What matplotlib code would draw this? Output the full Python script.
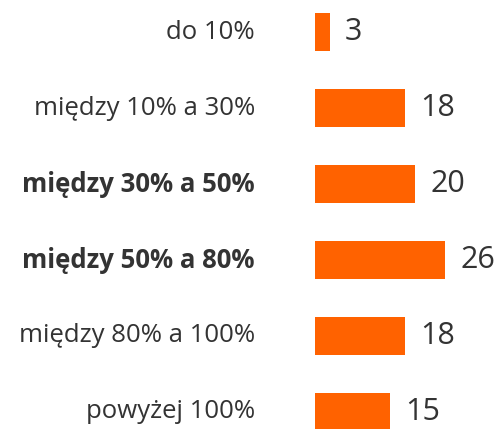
import matplotlib.pyplot as plt

# categories and counts
categories = ['do 10%', 'między 10% a 30%', 'między 30% a 50%',
              'między 50% a 80%', 'między 80% a 100%', 'powyżej 100%']
values = [3, 18, 20, 26, 18, 15]
bold = [False, False, True, True, False, False]

orange = '#FF6200'
grey = '#333333'

plt.rcParams['font.family'] = ['Open Sans', 'DejaVu Sans']

fig = plt.figure(figsize=(4.97, 4.29), dpi=100)
W, H = 497, 429
x0 = 315
ax = fig.add_axes([x0 / W, 0, 180 / W, 1])

pos = list(range(len(categories)))
ax.barh(pos, values, height=0.5, color=orange)

# pixel layout: first bar centre at 32px from top, 76px between bars
ax.set_ylim((H - 32) / 76, -32 / 76)
ax.set_xlim(0, 36)

for i, (c, v, b) in enumerate(zip(categories, values, bold)):
    ax.annotate(c, xy=(0, i), xytext=(-60, 0), textcoords='offset pixels',
                ha='right', va='center', fontsize=18.5, color=grey,
                fontweight='bold' if b else 'normal')
    ax.annotate(str(v), xy=(v, i), xytext=(15, 0), textcoords='offset pixels',
                ha='left', va='center', fontsize=22, color=grey)

ax.axis('off')
fig.savefig('out.png', dpi=100)
